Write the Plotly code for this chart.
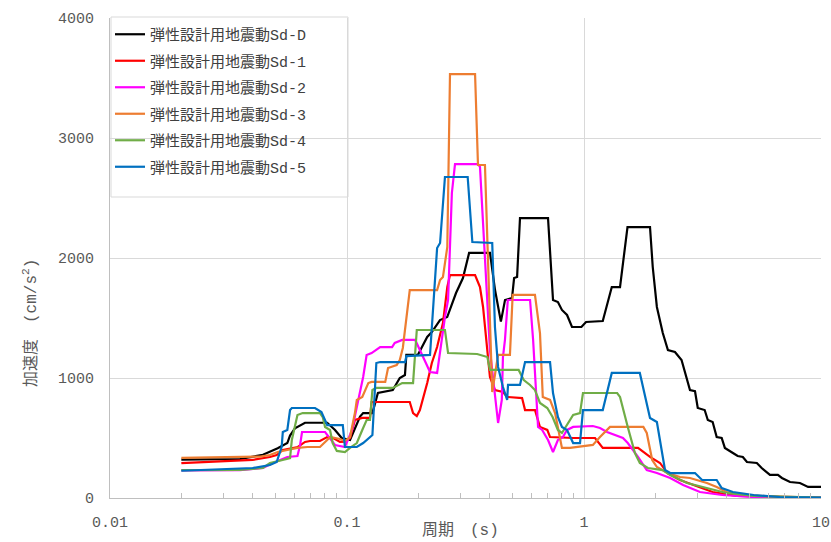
import plotly.graph_objects as go

# Series names and colours
names = [
    "弾性設計用地震動Sd-D",
    "弾性設計用地震動Sd-1",
    "弾性設計用地震動Sd-2",
    "弾性設計用地震動Sd-3",
    "弾性設計用地震動Sd-4",
    "弾性設計用地震動Sd-5",
]
colors = ["#000000", "#FF0000", "#FF00FF", "#ED7D31", "#70AD47", "#0070C0"]

# Period (s) / acceleration (cm/s2) pairs for each design spectrum
t_sd_d = [0.02, 0.0354, 0.0442, 0.0473, 0.051, 0.056, 0.0575, 0.0603, 0.0665, 0.0825,
          0.089, 0.095, 0.103, 0.1135, 0.117, 0.128, 0.135, 0.156, 0.167, 0.1756,
          0.178, 0.199, 0.218, 0.228, 0.2468, 0.2648, 0.2774, 0.2884, 0.3085, 0.323,
          0.3275, 0.4013, 0.4213, 0.446, 0.4642, 0.497, 0.507, 0.522, 0.537, 0.705,
          0.74, 0.776, 0.807, 0.848, 0.89, 0.975, 1.02, 1.2, 1.31, 1.419,
          1.526, 1.899, 1.95, 2.03, 2.15, 2.26, 2.42, 2.58, 2.8, 2.94,
          3.02, 3.23, 3.33, 3.49, 3.63, 3.81, 3.93, 4.25, 4.45, 4.68,
          4.87, 5.36, 5.62, 6.09, 6.58, 6.84, 7.4, 8.15, 8.82, 10.0]
a_sd_d = [320, 325, 360, 386, 415, 458, 520, 580, 627, 627,
          567, 500, 483, 678, 708, 708, 875, 900, 1000, 1025,
          1192, 1192, 1342, 1383, 1483, 1508, 1625, 1708, 1833, 2008,
          2042, 2042, 1733, 1470, 1650, 1667, 1833, 1842, 2333, 2333,
          1650, 1633, 1567, 1525, 1425, 1425, 1467, 1475, 1758, 1758,
          2258, 2258, 1925, 1592, 1375, 1233, 1217, 1150, 900, 890,
          750, 733, 650, 633, 508, 500, 417, 375, 350, 342,
          300, 292, 250, 192, 192, 167, 133, 125, 92, 92]

t_sd_1 = [0.02, 0.04, 0.0473, 0.0505, 0.0536, 0.0585, 0.062, 0.0665, 0.0698, 0.0769,
          0.0825, 0.0874, 0.0934, 0.098, 0.103, 0.108, 0.116, 0.125, 0.127, 0.184,
          0.19, 0.197, 0.203, 0.218, 0.228, 0.24, 0.254, 0.265, 0.272, 0.347,
          0.364, 0.375, 0.391, 0.401, 0.421, 0.455, 0.474, 0.548, 0.564, 0.621,
          0.652, 0.7, 0.719, 0.9, 1.113, 1.2, 1.69, 1.899, 2.093, 2.25,
          2.54, 3.05, 3.49, 4.4, 10.0]
a_sd_1 = [290, 317, 342, 358, 400, 417, 425, 467, 475, 475,
          508, 500, 467, 470, 500, 650, 667, 667, 800, 800,
          708, 683, 733, 958, 1125, 1258, 1458, 1758, 1858, 1858,
          1758, 1592, 1233, 1008, 900, 883, 842, 833, 733, 733,
          592, 567, 508, 500, 500, 417, 417, 342, 292, 208,
          150, 92, 50, 17, 3]

t_sd_2 = [0.02, 0.0354, 0.0442, 0.0487, 0.056, 0.0618, 0.0634, 0.0646, 0.0808, 0.0848,
          0.089, 0.098, 0.105, 0.11, 0.117, 0.121, 0.127, 0.138, 0.155, 0.159,
          0.171, 0.194, 0.203, 0.218, 0.224, 0.24, 0.247, 0.259, 0.267, 0.277,
          0.2856, 0.357, 0.364, 0.401, 0.434, 0.45, 0.455, 0.464, 0.477, 0.592,
          0.61, 0.64, 0.666, 0.705, 0.74, 0.776, 0.815, 0.848, 0.9, 1.09,
          1.168, 1.25, 1.46, 1.53, 1.69, 1.84, 2.03, 2.31, 2.62, 3.085,
          3.83, 5.2, 10.0]
a_sd_2 = [230, 232, 250, 292, 342, 350, 442, 550, 550, 500,
          442, 425, 567, 758, 1008, 1192, 1208, 1258, 1258, 1292,
          1317, 1317, 1233, 1108, 1050, 1042, 1233, 1508, 1650, 2542,
          2783, 2783, 2760, 1233, 625, 817, 1175, 1317, 1650, 1650,
          1317, 592, 567, 483, 383, 483, 508, 567, 592, 600,
          583, 550, 500, 458, 342, 233, 208, 167, 108, 50,
          25, 8, 3]

t_sd_3 = [0.02, 0.0354, 0.043, 0.0473, 0.051, 0.056, 0.0618, 0.0681, 0.0769, 0.0825,
          0.0848, 0.0934, 0.098, 0.103, 0.108, 0.11, 0.116, 0.123, 0.127, 0.145,
          0.149, 0.162, 0.167, 0.172, 0.184, 0.24, 0.247, 0.254, 0.265, 0.272,
          0.347, 0.357, 0.382, 0.41, 0.434, 0.487, 0.5, 0.621, 0.652, 0.67,
          0.719, 0.755, 0.807, 0.873, 0.93, 1.09, 1.168, 1.287, 1.78, 1.84,
          1.94, 2.03, 2.25, 2.54, 2.8, 3.3, 3.63, 3.99, 4.87, 6.71,
          10.0]
a_sd_3 = [335, 340, 345, 358, 383, 400, 417, 425, 425, 483,
          508, 492, 475, 508, 708, 817, 842, 958, 967, 967,
          1083, 1108, 1150, 1250, 1733, 1733, 1817, 1842, 2092, 3533,
          3533, 2775, 2775, 883, 1192, 1192, 1692, 1692, 1375, 842,
          817, 708, 417, 417, 425, 442, 508, 592, 592, 542,
          317, 258, 208, 175, 167, 125, 92, 50, 25, 8,
          3]

t_sd_4 = [0.02, 0.0354, 0.0442, 0.0473, 0.052, 0.0575, 0.0585, 0.0603, 0.0618, 0.065,
          0.0769, 0.079, 0.0808, 0.0848, 0.087, 0.0906, 0.098, 0.103, 0.11, 0.116,
          0.121, 0.125, 0.128, 0.133, 0.156, 0.171, 0.19, 0.197, 0.259, 0.267,
          0.354, 0.391, 0.401, 0.53, 0.557, 0.592, 0.621, 0.652, 0.7, 0.737,
          0.776, 0.807, 0.86, 0.9, 0.962, 0.99, 1.38, 1.419, 1.53, 1.64,
          1.72, 1.86, 2.15, 2.31, 2.72, 3.3, 3.99, 5.2, 10.0]
a_sd_4 = [232, 235, 250, 292, 310, 333, 483, 592, 692, 708,
          708, 675, 592, 567, 458, 392, 383, 417, 458, 567,
          650, 650, 900, 917, 917, 958, 958, 1400, 1400, 1208,
          1200, 1175, 1067, 1067, 983, 942, 900, 792, 750, 675,
          567, 542, 625, 692, 708, 875, 875, 842, 592, 375,
          292, 250, 233, 192, 125, 83, 42, 17, 3]

t_sd_5 = [0.02, 0.04, 0.0473, 0.0505, 0.053, 0.0536, 0.056, 0.0575, 0.0585, 0.0733,
          0.078, 0.0825, 0.096, 0.098, 0.11, 0.117, 0.128, 0.133, 0.138, 0.176,
          0.178, 0.224, 0.24, 0.247, 0.259, 0.323, 0.338, 0.41, 0.421, 0.434,
          0.455, 0.474, 0.478, 0.537, 0.564, 0.719, 0.74, 0.776, 0.807, 0.848,
          0.9, 0.962, 0.99, 1.2, 1.31, 1.72, 1.899, 2.03, 2.197, 2.31,
          2.94, 3.15, 3.63, 3.81, 4.25, 5.2, 6.71, 10.0]
a_sd_5 = [227, 250, 275, 300, 425, 550, 567, 733, 750, 750,
          717, 608, 608, 425, 425, 458, 525, 1125, 1133, 1133,
          1183, 1192, 2083, 2125, 2675, 2675, 2133, 2125, 1425, 1092,
          925, 817, 942, 942, 1133, 1133, 875, 675, 592, 567,
          458, 458, 733, 733, 1042, 1042, 667, 633, 233, 208,
          208, 150, 150, 83, 50, 25, 8, 3]

periods = [t_sd_d, t_sd_1, t_sd_2, t_sd_3, t_sd_4, t_sd_5]
accels = [a_sd_d, a_sd_1, a_sd_2, a_sd_3, a_sd_4, a_sd_5]

x_tickvals = [0.01, 0.1, 1, 10]
x_ticktext = ["0.01", "0.1", "1", "10"]
y_tickvals = [0, 1000, 2000, 3000, 4000]

W, H = 831, 542
L, R, T, B = 110, 10, 18, 44
PW, PH = W - L - R, H - T - B


def px_x(p):
    return (p - L) / PW


def px_y(p):
    return (H - B - p) / PH


fig = go.Figure()
for name, color, t, a in zip(names, colors, periods, accels):
    fig.add_trace(go.Scatter(
        x=t, y=a, mode="lines", name=name,
        line=dict(color=color, width=2.2),
        legendgroup=name,
    ))

grid = "#d9d9d9"
axis_line = "#bfbfbf"
tick_font = dict(family="Liberation Mono, Noto Sans CJK JP", size=15, color="#595959")
minor_vals = [m * 10.0 ** e for e in (-2, -1, 0) for m in range(2, 10)]

fig.update_layout(
    width=W, height=H,
    margin=dict(l=L, r=R, t=T, b=B, pad=0, autoexpand=False),
    paper_bgcolor="white", plot_bgcolor="white",
    showlegend=True,
    legend=dict(
        x=0.0, y=1.0, xanchor="left", yanchor="top",
        bgcolor="rgba(0,0,0,0)", borderwidth=0,
        font=dict(family="Liberation Mono, Noto Sans CJK JP", size=15, color="#404040"),
        tracegroupgap=4,
    ),
    xaxis=dict(
        type="log", range=[-2, 1], automargin=False,
        tickvals=x_tickvals, ticktext=x_ticktext,
        showgrid=True, gridcolor=grid, gridwidth=1,
        showline=True, linecolor=axis_line, linewidth=1,
        ticks="", ticklabelstandoff=10, tickfont=tick_font,
        zeroline=False,
        minor=dict(ticks="inside", ticklen=5, tickcolor=axis_line,
                   tickvals=minor_vals, showgrid=False),
    ),
    yaxis=dict(
        range=[0, 4000], tickvals=y_tickvals, automargin=False,
        showgrid=True, gridcolor=grid, gridwidth=1,
        showline=True, linecolor=axis_line, linewidth=1,
        ticks="", ticklabelstandoff=12, tickfont=tick_font,
        zeroline=False,
    ),
    shapes=[dict(
        type="rect", xref="paper", yref="paper",
        x0=px_x(111), x1=px_x(348), y0=px_y(197), y1=px_y(17),
        line=dict(color=grid, width=1), fillcolor="rgba(0,0,0,0)",
    )],
    annotations=[
        dict(text="周期　(s)", xref="paper", yref="paper",
             x=px_x(460), y=px_y(530), showarrow=False,
             xanchor="center", yanchor="middle",
             font=dict(family="Liberation Mono, Noto Sans CJK JP", size=16, color="#595959")),
        dict(text="加速度　(cm/s<sup>2</sup>)", xref="paper", yref="paper",
             x=px_x(30), y=px_y(323), showarrow=False, textangle=-90,
             xanchor="center", yanchor="middle",
             font=dict(family="Liberation Mono, Noto Sans CJK JP", size=16, color="#595959")),
    ],
)

fig.write_html("out.html")
